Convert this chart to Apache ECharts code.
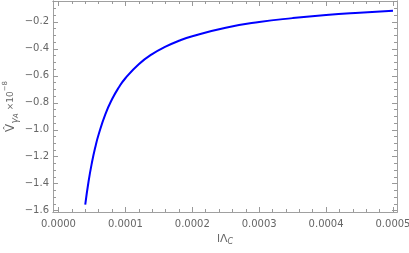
<!DOCTYPE html>
<html>
<head>
<meta charset="utf-8">
<script src="https://cdn.jsdelivr.net/npm/echarts@6/dist/echarts.min.js"></script>
<style>html,body{margin:0;padding:0;background:#fff}#c{width:409px;height:253px}</style>
</head>
<body>
<div id="c"></div>
<script>
const xValues = [0.00004, 0.000045, 0.00005, 0.000055, 0.00006, 0.00007, 0.00008, 0.00009, 0.0001, 0.00012, 0.00014, 0.00016, 0.00018, 0.0002, 0.00025, 0.0003, 0.00035, 0.0004, 0.00045, 0.0005];
const yValues = [-1.556, -1.382, -1.243, -1.129, -1.035, -0.886, -0.774, -0.687, -0.618, -0.514, -0.439, -0.384, -0.340, -0.306, -0.243, -0.201, -0.172, -0.149, -0.132, -0.118];
const xTickValues = [0, 0.0001, 0.0002, 0.0003, 0.0004, 0.0005];
const xMinorTickValues = [0.00002, 0.00004, 0.00006, 0.00008, 0.00012, 0.00014, 0.00016, 0.00018, 0.00022, 0.00024, 0.00026, 0.00028, 0.00032, 0.00034, 0.00036, 0.00038, 0.00042, 0.00044, 0.00046, 0.00048];
const yTickValues = [-1.6, -1.4, -1.2, -1.0, -0.8, -0.6, -0.4, -0.2];
const yMinorTickValues = [-1.55, -1.5, -1.45, -1.35, -1.3, -1.25, -1.15, -1.1, -1.05, -0.95, -0.9, -0.85, -0.75, -0.7, -0.65, -0.55, -0.5, -0.45, -0.35, -0.3, -0.25, -0.15, -0.1, -0.05];

const X_MIN = -0.0000082, X_MAX = 0.000506, Y_MIN = -1.61, Y_MAX = -0.045;
const lineCol = '#a0a0a0', tickCol = '#999', labCol = '#666';

function xAx(pos, vals, len, labels, name) {
  return {
    type: 'value', position: pos, min: X_MIN, max: X_MAX,
    axisLine: { show: true, onZero: false, lineStyle: { color: lineCol, width: 1 } },
    axisTick: { show: true, inside: true, length: len, customValues: vals, lineStyle: { color: tickCol } },
    axisLabel: labels ? { show: true, customValues: xTickValues, color: labCol, fontSize: 10, margin: 7, fontFamily: 'DejaVu Sans',
      formatter: v => v.toFixed(4) } : { show: false },
    splitLine: { show: false },
    name: name || '', nameLocation: 'middle', nameGap: 20, nameMoveOverlap: false,
    nameTextStyle: { color: labCol, fontFamily: 'DejaVu Sans', rich: {
      m: { fontSize: 11, color: labCol }, s: { fontSize: 8, color: labCol, fontStyle: 'italic', verticalAlign: 'bottom', padding: [6, 0, 0, 0] } } }
  };
}
function yAx(pos, vals, len, labels, name) {
  return {
    type: 'value', position: pos, min: Y_MIN, max: Y_MAX,
    axisLine: { show: true, onZero: false, lineStyle: { color: lineCol, width: 1 } },
    axisTick: { show: true, inside: true, length: len, customValues: vals, lineStyle: { color: tickCol } },
    axisLabel: labels ? { show: true, customValues: yTickValues, color: labCol, fontSize: 10, margin: 4, fontFamily: 'DejaVu Sans',
      formatter: v => v.toFixed(1).replace('-', '\u2212') } : { show: false },
    splitLine: { show: false },
    name: name || '', nameLocation: 'middle', nameGap: 33, nameRotate: 90, nameMoveOverlap: false,
    nameTextStyle: { color: labCol, fontFamily: 'DejaVu Sans', lineHeight: 18, rich: {
      v: { fontSize: 12, color: labCol, lineHeight: 18, verticalAlign: 'middle' },
      g: { fontSize: 10, color: labCol, fontStyle: 'italic', lineHeight: 18, verticalAlign: 'bottom' },
      a: { fontSize: 7, color: labCol, fontStyle: 'italic', lineHeight: 18, verticalAlign: 'bottom' },
      t: { fontSize: 9, color: labCol, lineHeight: 18, verticalAlign: 'middle' },
      p: { fontSize: 7, color: labCol, lineHeight: 18, verticalAlign: 'top' } } }
  };
}

const chart = echarts.init(document.getElementById('c'), null, { renderer: 'canvas' });
chart.setOption({
  animation: false,
  backgroundColor: '#fff',
  grid: { left: 53, right: 12, top: 1, bottom: 41, containLabel: false, outerBoundsMode: 'none' },
  xAxis: [
    xAx('bottom', xTickValues, 5, true, '{m|l\u039B}{s|C}'),
    xAx('bottom', xMinorTickValues, 3, false),
    xAx('top', xTickValues, 5, false),
    xAx('top', xMinorTickValues, 3, false)
  ],
  yAxis: [
    yAx('left', yTickValues, 5, true, '{v|V\u0302}{g|\u03B3}{a|A}{t| \u00D710}{p|\u22128}'),
    yAx('left', yMinorTickValues, 3, false),
    yAx('right', yTickValues, 5, false),
    yAx('right', yMinorTickValues, 3, false)
  ],
  series: [{
    type: 'line', xAxisIndex: 0, yAxisIndex: 0, smooth: true, showSymbol: false,
    lineStyle: { color: '#0000ff', width: 2 },
    data: xValues.map((x, i) => [x, yValues[i]])
  }]
});
</script>
</body>
</html>
